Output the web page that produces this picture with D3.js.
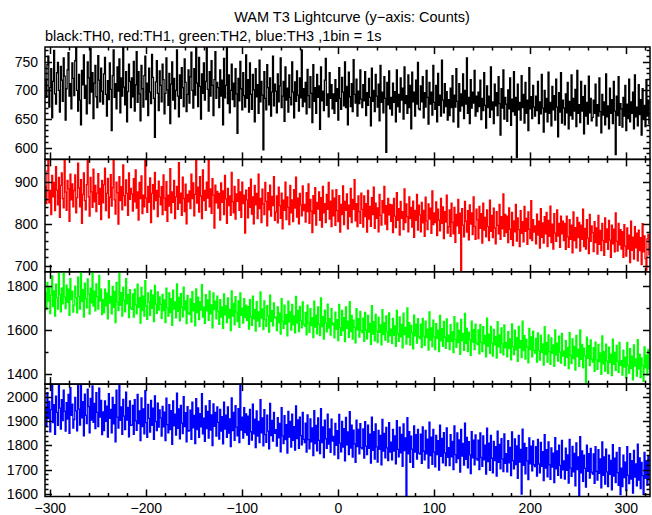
<!DOCTYPE html>
<html><head><meta charset="utf-8">
<script src="https://cdn.jsdelivr.net/npm/d3@7"></script>
<style>body{margin:0;background:#fff}svg{display:block}text{font-family:"Liberation Sans",Arial,sans-serif;fill:#000}</style>
</head><body><svg id="c" width="652" height="515"></svg>
<script>
const binStart = -305; // first bin time (s), 1 bin = 1 s
const xTickLabels = [-300,-200,-100,0,100,200,300];
const seriesNames = ["TH0","TH1","TH2","TH3"];
const seriesColors = ["#000000","#ff0000","#00ff00","#0000ff"];
const yDomains = [[579.5,776],[686,953],[1354,1867],[1588,2055]];
const yMajor = [50,100,200,100];
const yMinor = [10,20,100,20];

const th0 = [
720,688,745,760,671,705,738,652,716,770,694,676,731,749,700,662,742,718,681,757,725,648,703,736,766,690,712,668,748,721,
691,752,776,700,664,728,683,640,735,710,762,686,709,659,750,722,677,773,697,731,651,713,744,689,670,761,718,680,739,699,
676,729,758,693,655,717,684,748,702,630,726,771,688,712,668,741,699,755,661,722,690,776,706,675,733,645,698,746,716,670,
722,689,751,664,710,768,679,733,694,647,744,703,671,726,760,684,713,656,739,697,677,763,723,686,618,715,752,695,665,734,
709,680,746,719,659,695,757,701,674,730,642,711,750,683,721,668,700,771,690,654,727,686,740,705,672,755,714,663,693,736,
678,724,767,700,669,738,692,776,713,672,758,707,650,729,695,748,683,716,776,702,664,733,690,752,709,656,719,768,686,714,
705,670,736,690,718,640,756,687,709,776,677,727,661,700,746,684,713,672,738,694,625,721,682,751,703,666,731,691,671,762,
686,719,662,748,693,667,728,701,645,738,689,710,660,753,680,716,692,596,733,686,666,745,705,675,722,655,697,760,673,711,
699,661,729,680,708,757,670,690,716,646,741,683,704,662,727,688,675,750,697,652,715,681,734,692,664,722,687,771,672,703,
680,714,659,737,691,670,724,695,644,745,681,705,660,728,688,708,632,741,682,699,665,718,756,674,694,654,731,686,710,668,
694,660,719,681,703,648,740,686,667,723,697,673,750,670,707,640,732,689,672,712,663,754,693,678,720,655,699,677,736,685,
670,710,682,733,656,696,674,721,688,638,739,681,700,663,728,690,671,711,647,744,679,697,661,724,686,592,714,675,734,668,
688,657,713,679,698,645,736,672,693,662,722,683,704,650,741,677,691,660,727,670,709,633,732,680,697,655,718,676,749,668,
666,708,680,724,652,696,671,735,688,641,714,676,697,657,744,679,667,709,645,730,674,692,655,753,683,661,712,672,698,648,
684,656,704,670,726,645,692,671,738,681,636,712,664,694,673,729,651,700,676,757,660,688,642,719,669,697,678,735,655,690,
663,697,672,718,649,686,665,731,674,634,708,670,690,653,741,666,680,642,711,673,696,656,724,677,622,703,669,736,650,688,
676,646,701,668,722,639,685,663,733,657,688,583,711,666,679,648,726,670,693,643,714,660,683,630,740,668,689,651,709,671,
655,690,665,716,642,680,659,728,669,627,700,662,686,645,732,660,679,638,707,666,691,648,720,671,619,696,662,731,643,683,
669,640,694,661,714,633,681,656,727,650,686,664,702,637,735,660,675,644,716,664,689,624,709,655,679,641,725,661,686,647,
653,683,660,711,638,675,655,722,663,626,693,657,680,640,729,654,673,633,704,660,684,642,716,664,588,690,656,724,639,677,
668,636,688,655,709,630,676,651,720,645,680,660,697,633,727,654,671,638,710,658,684,622,703,650,674,637,719,655,683,642];

const th1 = [
889,848,925,953,850,879,822,915,864,898,831,936,880,845,910,815,891,921,860,838,950,875,832,903,883,806,918,857,895,840,
879,916,826,862,944,885,840,905,801,870,921,855,833,893,953,864,818,910,876,839,930,852,891,829,873,919,846,884,810,903,
850,893,932,831,872,908,814,863,917,842,886,953,857,823,899,874,799,912,855,888,833,940,867,843,904,872,820,921,858,884,
871,830,907,852,928,837,876,809,898,860,914,824,868,840,950,861,827,889,851,909,803,872,893,835,922,855,879,817,901,864,
845,888,822,916,861,832,900,806,868,842,931,826,876,851,903,812,864,889,834,945,849,873,820,911,860,829,894,800,870,852,
878,836,918,860,897,819,870,953,849,887,828,912,866,812,928,855,879,832,899,861,951,840,883,825,907,868,790,892,850,877,
837,872,809,897,851,878,822,915,859,801,884,843,866,820,922,852,826,889,811,871,853,905,832,876,815,899,848,868,778,880,
857,814,886,839,906,823,864,800,891,845,872,812,918,836,860,803,882,847,822,898,853,795,874,833,892,818,865,843,912,808,
828,866,802,887,843,813,873,788,856,832,899,810,864,839,798,891,826,857,805,881,837,911,816,861,800,872,845,819,890,831,
846,804,874,829,895,801,858,830,779,867,824,886,797,851,835,876,808,862,792,889,826,848,803,870,834,898,811,854,793,880,
819,861,796,881,831,805,867,780,846,822,890,798,853,832,871,788,844,817,884,803,858,834,905,807,848,793,866,829,801,873,
834,792,866,817,848,780,879,811,841,794,862,822,887,789,849,813,838,781,870,820,797,855,826,889,799,843,786,860,821,846,
806,845,779,860,818,791,874,808,836,773,853,813,829,786,883,803,847,817,781,864,812,839,792,854,768,832,808,870,785,844,
821,781,851,802,832,770,863,807,786,847,811,837,777,878,798,826,803,852,772,835,809,783,860,801,840,765,829,804,868,778,
793,833,770,849,803,776,839,756,822,795,858,777,825,688,836,797,769,853,806,780,831,762,845,799,826,774,864,793,763,835,
810,765,841,789,824,754,849,785,815,769,833,793,760,856,782,820,767,837,790,752,829,796,776,846,763,817,788,871,770,822,
779,818,755,838,787,763,827,748,807,781,846,759,814,786,746,831,777,805,757,841,782,813,751,828,787,765,855,760,810,780,
795,752,823,773,806,742,836,768,802,754,817,776,827,746,808,770,842,755,799,740,824,778,758,833,771,801,744,818,776,806,
760,801,739,818,769,744,810,763,797,731,828,760,791,743,815,767,803,735,797,763,835,746,789,740,810,766,729,822,758,795,
779,734,805,755,790,728,820,751,784,736,801,760,725,814,756,788,739,808,761,720,797,752,787,733,826,758,735,801,750,786,
740,781,720,798,747,723,790,740,773,708,806,737,768,716,793,743,778,712,785,736,767,703,800,733,771,717,690,764,775,726];

const th2 = [
1772,1694,1818,1732,1795,1676,1760,1848,1708,1780,1665,1810,1748,1697,1860,1763,1684,1792,1721,1867,1752,1699,1806,1727,1788,1668,1835,1740,1779,1683,
1715,1801,1749,1679,1842,1755,1696,1867,1731,1785,1660,1815,1744,1702,1834,1765,1674,1792,1725,1862,1710,1779,1688,1811,1752,1697,1850,1734,1787,1671,
1740,1680,1788,1711,1769,1652,1826,1724,1755,1675,1800,1704,1777,1635,1818,1728,1690,1859,1714,1772,1665,1796,1736,1684,1836,1720,1763,1658,1785,1701,
1695,1766,1660,1787,1716,1675,1810,1705,1749,1633,1796,1690,1756,1664,1826,1711,1650,1770,1729,1668,1783,1700,1760,1640,1805,1719,1677,1775,1692,1752,
1718,1653,1764,1690,1738,1635,1792,1702,1665,1771,1680,1744,1622,1783,1697,1729,1657,1812,1686,1750,1643,1767,1706,1661,1797,1693,1734,1630,1759,1677,
1672,1743,1637,1776,1689,1721,1620,1789,1681,1751,1648,1729,1692,1808,1660,1705,1632,1762,1688,1738,1645,1779,1675,1716,1611,1770,1694,1733,1652,1756,
1687,1627,1740,1660,1706,1609,1766,1670,1712,1635,1748,1656,1695,1598,1780,1664,1723,1625,1753,1683,1640,1734,1613,1771,1668,1701,1633,1744,1658,1714,
1645,1708,1605,1740,1661,1622,1756,1652,1694,1596,1730,1643,1684,1617,1775,1655,1697,1603,1734,1650,1618,1712,1666,1592,1760,1641,1689,1620,1725,1656,
1660,1598,1706,1634,1678,1582,1744,1642,1609,1715,1628,1671,1574,1733,1638,1684,1601,1718,1625,1665,1588,1754,1633,1691,1594,1709,1645,1611,1729,1627,
1619,1682,1579,1714,1633,1590,1699,1621,1658,1566,1733,1614,1669,1584,1706,1628,1575,1748,1617,1662,1559,1692,1634,1593,1719,1610,1653,1578,1698,1625,
1632,1565,1683,1604,1648,1553,1718,1612,1577,1691,1598,1657,1548,1706,1609,1641,1568,1731,1594,1668,1559,1646,1613,1542,1698,1602,1653,1569,1686,1598,
1589,1655,1549,1681,1600,1561,1668,1592,1631,1536,1712,1582,1639,1552,1672,1597,1543,1660,1590,1624,1533,1694,1580,1635,1555,1666,1594,1546,1679,1575,
1605,1539,1654,1577,1620,1526,1690,1585,1549,1661,1570,1627,1520,1678,1580,1613,1537,1702,1568,1635,1532,1622,1589,1515,1669,1574,1628,1541,1653,1571,
1562,1628,1521,1654,1573,1531,1642,1566,1605,1509,1684,1555,1611,1524,1646,1570,1512,1630,1563,1600,1503,1668,1552,1607,1527,1640,1568,1517,1652,1548,
1578,1512,1626,1549,1594,1498,1662,1558,1522,1633,1543,1599,1490,1650,1553,1586,1508,1677,1540,1608,1502,1591,1557,1485,1641,1546,1603,1512,1628,1542,
1534,1601,1492,1626,1545,1503,1616,1538,1576,1479,1655,1527,1582,1494,1617,1541,1482,1604,1533,1572,1473,1639,1524,1579,1497,1611,1538,1488,1624,1520,
1545,1479,1594,1516,1561,1465,1629,1525,1489,1600,1510,1566,1458,1617,1520,1553,1475,1642,1507,1575,1468,1558,1523,1451,1608,1512,1570,1479,1596,1508,
1496,1563,1454,1588,1507,1464,1577,1499,1538,1441,1616,1489,1544,1455,1579,1502,1444,1565,1494,1533,1435,1601,1486,1541,1459,1573,1500,1450,1586,1482,
1505,1439,1553,1476,1521,1425,1589,1485,1448,1560,1470,1526,1418,1577,1480,1513,1435,1601,1467,1535,1428,1518,1483,1360,1568,1472,1530,1439,1556,1468,
1454,1521,1412,1546,1465,1422,1535,1457,1496,1399,1574,1447,1502,1413,1537,1460,1402,1523,1452,1491,1393,1559,1444,1499,1417,1531,1458,1408,1544,1440,
1461,1395,1509,1432,1477,1381,1545,1441,1404,1516,1426,1482,1374,1533,1436,1469,1391,1557,1423,1491,1384,1474,1439,1367,1524,1428,1486,1395,1512,1424];

const th3 = [
1960,1878,2020,1912,1983,1857,1949,2050,1895,1970,1846,2005,1938,1884,2055,1955,1868,1990,1903,2030,1942,1860,1978,1910,2012,1850,2040,1925,1972,1872,
1908,2000,1944,1861,2055,1951,1885,2055,1915,1982,1840,2013,1925,1891,2034,1962,1852,1996,1905,2048,1896,1975,1870,2020,1938,1878,2038,1918,1987,1845,
1940,1862,1985,1900,1963,1835,2015,1913,1950,1852,2000,1890,1970,1815,2030,1918,1872,2050,1904,1960,1846,1992,1922,1866,2022,1906,1958,1836,1985,1884,
1885,1967,1846,1990,1902,1863,2012,1891,1944,1820,1998,1878,1952,1848,2028,1895,1834,1971,1913,1856,1987,1884,1955,1826,2006,1899,1862,1976,1876,1948,
1915,1839,1962,1877,1939,1820,1997,1887,1852,1970,1866,1945,1805,1985,1882,1930,1843,2018,1871,1952,1828,1967,1893,1849,2003,1878,1936,1815,1961,1860,
1862,1947,1826,1980,1873,1925,1808,1995,1866,1956,1834,1932,1877,2015,1848,1914,1817,1965,1870,1942,1831,1986,1864,1927,1800,1973,1880,1938,1839,1960,
1896,1827,1950,1860,1920,1807,1980,1868,1926,1834,1960,1851,1911,1795,1998,1862,1937,1821,1966,1876,1840,1953,1812,2050,1864,1918,1831,1957,1854,1931,
1843,1922,1805,1950,1857,1822,1972,1848,1909,1791,1944,1839,1900,1812,1990,1853,1915,1798,1949,1845,1813,1926,1860,1786,1975,1841,1904,1818,1938,1850,
1866,1797,1916,1832,1892,1774,1957,1840,1808,1924,1824,1887,1768,1942,1835,1900,1793,1930,1821,1878,1781,1965,1829,1906,1788,1918,1841,1803,1937,1826,
1812,1893,1773,1927,1824,1786,1910,1815,1873,1758,1945,1808,1883,1778,1915,1821,1766,1953,1812,1877,1750,1905,1828,1788,1930,1806,1869,1771,1909,1818,
1838,1761,1892,1801,1862,1746,1929,1810,1774,1900,1793,1870,1736,1917,1803,1856,1762,1941,1789,1884,1752,1864,1807,1730,1905,1795,1867,1765,1891,1791,
1786,1869,1748,1899,1797,1762,1885,1788,1847,1727,1918,1780,1857,1743,1890,1794,1731,1863,1784,1842,1720,1908,1777,1850,1749,1875,1790,1737,1895,1773,
1814,1740,1867,1777,1840,1724,1903,1784,1753,1876,1769,1846,1713,1890,1779,1832,1590,1916,1765,1858,1730,1839,1785,1709,1881,1772,1845,1743,1867,1768,
1764,1847,1726,1877,1776,1740,1863,1765,1826,1706,1897,1758,1835,1722,1867,1772,1711,1842,1762,1820,1698,1885,1755,1829,1728,1853,1769,1716,1873,1751,
1791,1716,1845,1753,1817,1700,1881,1762,1729,1852,1746,1823,1689,1867,1756,1809,1718,1893,1742,1834,1707,1816,1761,1683,1857,1749,1822,1720,1844,1745,
1739,1822,1700,1852,1750,1713,1840,1740,1801,1681,1872,1733,1810,1697,1842,1747,1686,1817,1737,1795,1673,1860,1730,1804,1703,1828,1744,1691,1848,1726,
1766,1690,1820,1728,1792,1675,1856,1737,1703,1827,1721,1798,1663,1842,1731,1784,1598,1868,1717,1809,1682,1791,1736,1658,1832,1724,1797,1695,1819,1720,
1712,1795,1673,1825,1723,1686,1813,1713,1774,1654,1845,1706,1783,1670,1815,1720,1659,1790,1710,1768,1646,1833,1703,1777,1676,1801,1717,1664,1821,1699,
1736,1660,1789,1697,1761,1644,1825,1706,1672,1796,1690,1767,1632,1811,1700,1753,1592,1837,1686,1778,1651,1760,1705,1627,1801,1693,1766,1664,1788,1689,
1681,1765,1643,1795,1693,1656,1783,1684,1744,1624,1815,1676,1753,1640,1785,1690,1629,1760,1680,1738,1616,1803,1673,1747,1646,1771,1687,1634,1791,1596,
1706,1629,1760,1667,1731,1614,1795,1676,1642,1766,1660,1737,1602,1780,1669,1723,1632,1806,1656,1748,1621,1730,1675,1597,1771,1663,1736,1634,1758,1659];

const series = [th0, th1, th2, th3];

const svg = d3.select("#c");
const plotLeft = 45, plotRight = 650, plotTop = 47, plotBottom = 496.5;
const ph = (plotBottom - plotTop) / 4;
const x = d3.scaleLinear().domain([-305.5, 324.7]).range([plotLeft, plotRight]);
const fontSize = 14;

svg.append("text").attr("x", 352).attr("y", 22).attr("text-anchor", "middle")
  .style("font-size", "14.5px").text("WAM T3 Lightcurve (y\u2212axis: Counts)");
svg.append("text").attr("x", 45).attr("y", 41)
  .style("font-size", "14.5px").text("black:TH0, red:TH1, green:TH2, blue:TH3 ,1bin = 1s");

const defs = svg.append("defs");

series.forEach((vals, k) => {
  const y0 = plotTop + k * ph, y1 = y0 + ph;
  const y = d3.scaleLinear().domain(yDomains[k]).range([y1, y0]);
  const data = vals.map((v, i) => [binStart + i, v]);
  defs.append("clipPath").attr("id", "cp" + k).append("rect")
    .attr("x", plotLeft).attr("y", y0).attr("width", plotRight - plotLeft).attr("height", ph);
  const line = d3.line().x(d => x(d[0])).y(d => y(d[1])).curve(d3.curveStep);
  svg.append("path").datum(data).attr("clip-path", "url(#cp" + k + ")")
    .attr("fill", "none").attr("stroke", seriesColors[k]).attr("stroke-width", 1.3)
    .attr("stroke-linejoin", "miter")
    .attr("d", line);

  const g = svg.append("g");
  const dom = yDomains[k];
  const yTicks = d3.range(Math.ceil(dom[0] / yMinor[k]) * yMinor[k], dom[1], yMinor[k]);
  yTicks.forEach(v => {
    const isMajor = Math.abs(v / yMajor[k] - Math.round(v / yMajor[k])) < 1e-9;
    const len = isMajor ? 7 : 3.5;
    const yy = Math.round(y(v)) + 0.5;
    g.append("line").attr("x1", plotLeft).attr("x2", plotLeft + len).attr("y1", yy).attr("y2", yy).attr("stroke", "#000").attr("stroke-width", 1.5);
    g.append("line").attr("x1", plotRight).attr("x2", plotRight - len).attr("y1", yy).attr("y2", yy).attr("stroke", "#000").attr("stroke-width", 1.5);
    if (isMajor) {
      g.append("text").attr("x", 38).attr("y", y(v) + 5).attr("text-anchor", "end")
        .style("font-size", fontSize + "px").text(d3.format("d")(v));
    }
  });
  d3.range(-300, 325, 20).forEach(t => {
    const isMajor = t % 100 === 0;
    const len = isMajor ? 7 : 3.5;
    const xx = Math.round(x(t)) + 0.5;
    g.append("line").attr("x1", xx).attr("x2", xx).attr("y1", y1).attr("y2", y1 - len).attr("stroke", "#000").attr("stroke-width", 1.5);
    g.append("line").attr("x1", xx).attr("x2", xx).attr("y1", y0).attr("y2", y0 + len).attr("stroke", "#000").attr("stroke-width", 1.5);
  });
  g.append("rect").attr("x", plotLeft).attr("y", y0).attr("width", plotRight - plotLeft).attr("height", ph)
    .attr("fill", "none").attr("stroke", "#000").attr("stroke-width", 1.5);
});

const xAxisLabels = svg.append("g");
xTickLabels.forEach(t => {
  xAxisLabels.append("text").attr("x", x(t)).attr("y", 513).attr("text-anchor", "middle")
    .style("font-size", fontSize + "px").text(d3.format("d")(t));
});
</script></body></html>
